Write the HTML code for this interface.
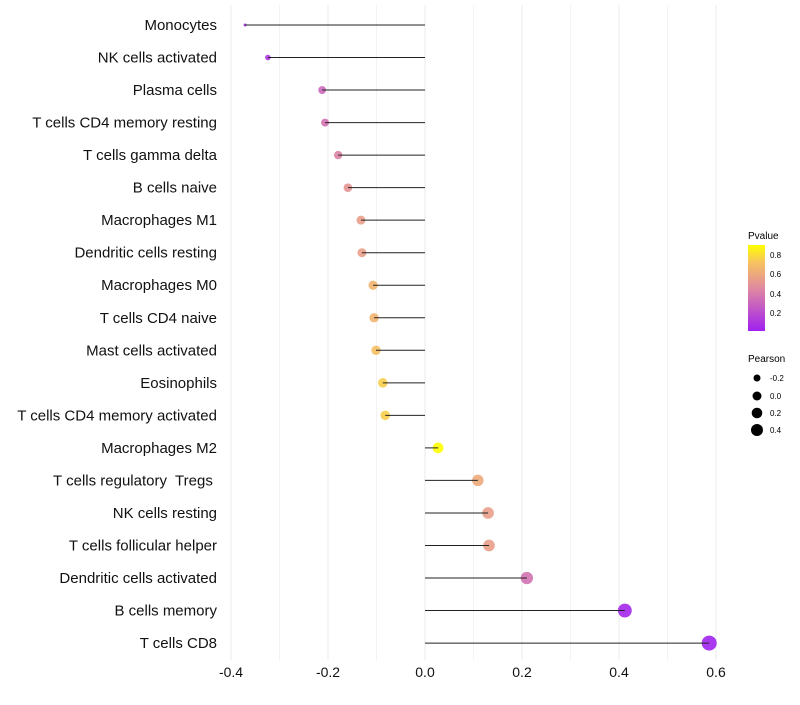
<!DOCTYPE html>
<html><head><meta charset="utf-8"><style>
body{margin:0;background:#fff;font-family:"Liberation Sans",sans-serif}
svg text{font-family:"Liberation Sans",sans-serif;white-space:pre}
</style></head><body>
<svg id="c" width="800" height="700">
<defs><linearGradient id="g" x1="0" y1="1" x2="0" y2="0">
<stop offset="0" stop-color="#a020f0"/><stop offset="0.5" stop-color="#e08aa0"/><stop offset="0.8" stop-color="#f7c35e"/><stop offset="1" stop-color="#ffff00"/></linearGradient></defs>
<g id="grid"></g><g id="dots"></g><g id="marks"></g><g id="ylab"></g><g id="xlab"></g>
<g>
<text x="748" y="239" font-size="10">Pvalue</text>
<rect x="748" y="245" width="17" height="86" fill="url(#g)"/>
<text x="770" y="258" font-size="8">0.8</text><text x="770" y="277" font-size="8">0.6</text>
<text x="770" y="297" font-size="8">0.4</text><text x="770" y="316" font-size="8">0.2</text>
</g>
<g>
<text x="748" y="362" font-size="10">Pearson</text>
<circle cx="757" cy="378" r="3.5"/><text x="770" y="381" font-size="8">-0.2</text>
<circle cx="757" cy="396" r="4.5"/><text x="770" y="399" font-size="8">0.0</text>
<circle cx="757" cy="413" r="5.3"/><text x="770" y="416" font-size="8">0.2</text>
<circle cx="757" cy="430" r="6"/><text x="770" y="433" font-size="8">0.4</text>
</g>
</svg>
<script>
const categories=["Monocytes","NK cells activated","Plasma cells","T cells CD4 memory resting","T cells gamma delta","B cells naive","Macrophages M1","Dendritic cells resting","Macrophages M0","T cells CD4 naive","Mast cells activated","Eosinophils","T cells CD4 memory activated","Macrophages M2","T cells regulatory  Tregs ","NK cells resting","T cells follicular helper","Dendritic cells activated","B cells memory","T cells CD8"];
const pearson=[-0.371,-0.324,-0.212,-0.206,-0.179,-0.159,-0.132,-0.130,-0.107,-0.105,-0.101,-0.087,-0.082,0.027,0.109,0.130,0.132,0.210,0.412,0.586];
const pvalue=[0.05,0.1,0.3,0.35,0.42,0.5,0.55,0.55,0.65,0.65,0.7,0.75,0.75,0.9,0.6,0.55,0.55,0.35,0.03,0.01];
const xticks=[-0.4,-0.2,0,0.2,0.4,0.6];
const NS="http://www.w3.org/2000/svg";
const X=v=>425+v*485, Y=i=>25+i*32.53;
function mk(t,a,p){const e=document.createElementNS(NS,t);for(const k in a)e.setAttribute(k,a[k]);document.getElementById(p).appendChild(e);return e;}
function col(p){const s=[[0,[160,32,240]],[0.45,[224,138,160]],[0.72,[247,195,94]],[0.89,[255,255,0]]];p=Math.max(0,Math.min(0.89,p));for(let i=1;i<s.length;i++){if(p<=s[i][0]){const t=(p-s[i-1][0])/(s[i][0]-s[i-1][0]);const c=s[i-1][1].map((v,j)=>Math.round(v+(s[i][1][j]-v)*t));return `rgb(${c})`;}}return "rgb(255,255,0)";}
for(let v=-0.4;v<=0.61;v+=0.1){const l=mk("line",{x1:X(v),x2:X(v),y1:5,y2:660,stroke:"#ebebeb","stroke-width":Math.abs(Math.round(v*10))%2==0?1:0.6},"grid");}
xticks.forEach(t=>{const e=mk("text",{x:X(t),y:677,"font-size":14,"text-anchor":"middle",fill:"#111"},"xlab");e.textContent=t===0?"0.0":t.toFixed(1);});
const pmin=Math.min(...pearson),pmax=Math.max(...pearson);
categories.forEach((c,i)=>{
const e=mk("text",{x:217,y:Y(i)+5,"font-size":15,"text-anchor":"end",fill:"#111"},"ylab");e.textContent=c;
const l=mk("line",{x1:X(0),x2:X(pearson[i]),y1:Y(i),y2:Y(i),stroke:"#222","stroke-width":1},"marks");
const r=1.5+6*Math.sqrt((pearson[i]-pmin)/(pmax-pmin));
const d=mk("circle",{cx:X(pearson[i]),cy:Y(i),r:r,fill:col(pvalue[i]),"fill-opacity":0.9},"dots");
});
</script>
</body></html>
